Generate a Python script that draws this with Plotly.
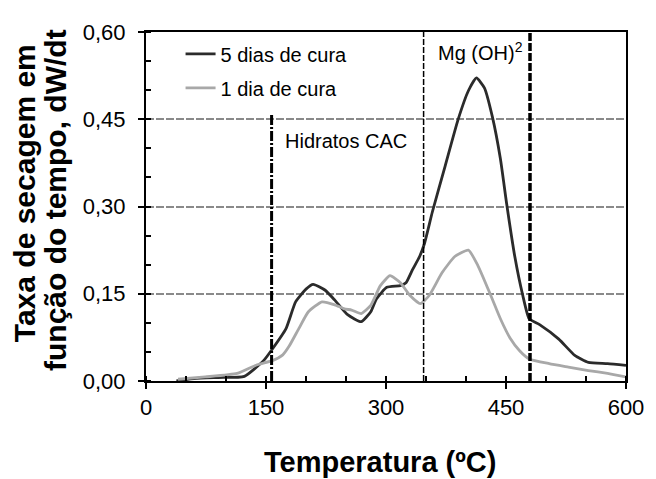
import plotly.graph_objects as go

# ---- data ----
series_names = ["5 dias de cura", "1 dia de cura"]

temp_5d = [38, 60, 90, 123, 147, 158, 175, 187, 200, 209, 224, 236, 252, 269, 281, 288,
           301, 318, 325, 333, 342, 348, 358, 374, 390, 403, 413, 423, 433, 443, 451,
           461, 471, 479, 492, 516, 536, 553, 577, 600]
rate_5d = [0.0, 0.004, 0.006, 0.008, 0.035, 0.055, 0.09, 0.136, 0.158, 0.166, 0.156,
           0.139, 0.114, 0.102, 0.119, 0.141, 0.161, 0.164, 0.169, 0.191, 0.214, 0.236,
           0.291, 0.37, 0.449, 0.499, 0.521, 0.504, 0.454, 0.382, 0.303, 0.214, 0.147,
           0.107, 0.097, 0.072, 0.044, 0.032, 0.030, 0.027]

temp_1d = [40, 74, 114, 139, 158, 171, 179, 191, 203, 220, 236, 248, 257, 269, 281, 293,
           305, 318, 330, 343, 354, 370, 386, 403, 415, 431, 443, 455, 467, 479, 504,
           528, 553, 577, 600]
rate_1d = [0.003, 0.007, 0.013, 0.028, 0.035, 0.045, 0.06, 0.09, 0.119, 0.136, 0.131,
           0.124, 0.122, 0.116, 0.13, 0.164, 0.181, 0.169, 0.147, 0.133, 0.147, 0.186,
           0.214, 0.225, 0.198, 0.147, 0.107, 0.074, 0.052, 0.038, 0.03, 0.024, 0.018,
           0.013, 0.007]

x_ticks = [0, 150, 300, 450, 600]
y_ticks = [0.0, 0.15, 0.30, 0.45, 0.60]
y_tick_labels = ["0,00", "0,15", "0,30", "0,45", "0,60"]

# temperature boundaries of the marked regions
boundary_temps = [157, 347, 480]
boundary_tops = [0.46, 0.60, 0.60]
region_labels = ["Hidratos CAC", "Mg (OH)<sup>2</sup>"]

x_title = "Temperatura (ºC)"
y_title_lines = ["Taxa de secagem em", "função do tempo, dW/dt"]

FONT = "Liberation Sans, Arial, sans-serif"

fig = go.Figure()
fig.add_trace(go.Scatter(x=temp_5d, y=rate_5d, mode="lines", name=series_names[0],
                         line=dict(color="#2b2b2b", width=2.8, shape="spline", smoothing=0.5),
                         legendgroup="a"))
fig.add_trace(go.Scatter(x=temp_1d, y=rate_1d, mode="lines", name=series_names[1],
                         line=dict(color="#a8a8a8", width=2.8, shape="spline", smoothing=0.5),
                         legendgroup="b"))

styles = [dict(width=3, dash="10px,2px,2px,2px"),
          dict(width=1.5, dash="6px,2px"),
          dict(width=3.5, dash="8px,2px")]
for t, top, st in zip(boundary_temps, boundary_tops, styles):
    fig.add_shape(type="line", x0=t, x1=t, y0=0, y1=top, xref="x", yref="y",
                  line=dict(color="black", **st), layer="above")

fig.add_annotation(x=boundary_temps[0] + 14, y=0.412, text=region_labels[0], showarrow=False,
                   xanchor="left", yanchor="middle", font=dict(size=20, color="black"))
fig.add_annotation(x=boundary_temps[1] + 15, y=0.566, text=region_labels[1], showarrow=False,
                   xanchor="left", yanchor="middle", font=dict(size=20, color="black"))

# axis titles
fig.add_annotation(xref="paper", yref="paper", x=0.487, y=-0.2316, text="<b>%s</b>" % x_title,
                   showarrow=False, xanchor="center", yanchor="middle",
                   font=dict(size=29, color="black"))
fig.add_annotation(xref="paper", yref="paper", x=-0.2515, y=0.539,
                   text="<b>%s</b>" % y_title_lines[0], textangle=-90, showarrow=False,
                   xanchor="center", yanchor="middle", font=dict(size=30, color="black"))
fig.add_annotation(xref="paper", yref="paper", x=-0.1886, y=0.52,
                   text="<b>%s</b>" % y_title_lines[1], textangle=-90, showarrow=False,
                   xanchor="center", yanchor="middle", font=dict(size=30, color="black"))

# page body has an 8px default margin, so the figure is sized to fit inside it
fig.update_layout(
    width=648, height=471, autosize=False,
    margin=dict(l=138, r=17, t=15, b=98),
    plot_bgcolor="white", paper_bgcolor="white",
    font=dict(family=FONT, color="black"),
    separators=",.",
    showlegend=True,
    legend=dict(x=0.072, y=0.993, xanchor="left", yanchor="top",
                bgcolor="rgba(0,0,0,0)", font=dict(size=20),
                tracegroupgap=5, traceorder="grouped"),
    xaxis=dict(range=[0, 600], tickvals=x_ticks, ticks="outside", ticklen=6, tickwidth=2,
               tickcolor="black", linecolor="black", linewidth=2, mirror=True,
               showgrid=False, zeroline=False, tickfont=dict(size=22),
               ticklabeloverflow="allow",
               minor=dict(dtick=50, ticks="inside", ticklen=5, tickwidth=2, tickcolor="black",
                          showgrid=False)),
    yaxis=dict(range=[0, 0.6], tickvals=y_ticks, ticktext=y_tick_labels, ticks="outside",
               ticklen=6, tickwidth=2, tickcolor="black", linecolor="black", linewidth=2,
               mirror=True, showgrid=True, gridcolor="#8a8a8a", gridwidth=1.5,
               griddash="8px,2px", zeroline=False, tickfont=dict(size=22),
               ticklabelstandoff=8,
               minor=dict(dtick=0.05, ticks="inside", ticklen=5, tickwidth=2,
                          tickcolor="black", showgrid=False)),
)

fig.write_html("out.html")
